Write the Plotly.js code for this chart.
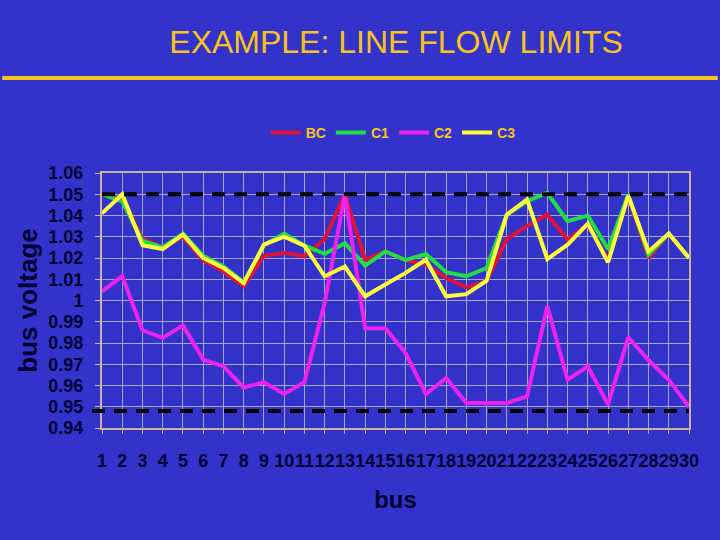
<!DOCTYPE html>
<html>
<head>
<meta charset="utf-8">
<script src="https://cdn.plot.ly/plotly-3.0.1.min.js"></script>
<style>html,body{margin:0;padding:0;background:#3333CC;}#chart{width:720px;height:540px;}</style>
</head>
<body>
<div id="chart"></div>
<script>
const buses = [1,2,3,4,5,6,7,8,9,10,11,12,13,14,15,16,17,18,19,20,21,22,23,24,25,26,27,28,29,30];
const BC = [1.050,1.048,1.029,1.025,1.030,1.019,1.0137,1.0067,1.021,1.0224,1.0208,1.029,1.050,1.0192,1.0231,1.019,1.0169,1.0106,1.0062,1.009,1.029,1.035,1.0404,1.0286,1.0357,1.0192,1.049,1.020,1.0315,1.020];
const C1 = [1.050,1.0467,1.028,1.025,1.0315,1.021,1.016,1.0085,1.026,1.0315,1.0258,1.022,1.027,1.0164,1.0231,1.019,1.0219,1.0133,1.0114,1.0153,1.0404,1.0467,1.0506,1.0373,1.040,1.0242,1.0498,1.0216,1.0315,1.020];
const C2 = [1.0043,1.0114,0.986,0.9824,0.9883,0.9722,0.969,0.9591,0.9615,0.956,0.9615,0.9988,1.0498,0.987,0.987,0.9753,0.956,0.9635,0.9518,0.9518,0.9518,0.9549,0.9973,0.9627,0.969,0.951,0.9827,0.972,0.9627,0.950];
const C3 = [1.041,1.050,1.026,1.0242,1.031,1.020,1.0153,1.0082,1.0263,1.030,1.0258,1.0114,1.016,1.002,1.0075,1.013,1.0192,1.002,1.003,1.0093,1.0404,1.0475,1.0195,1.0263,1.0362,1.018,1.0493,1.0231,1.0315,1.020];
const seriesNames = ['BC','C1','C2','C3'];
const yTickVals = [0.94,0.95,0.96,0.97,0.98,0.99,1.00,1.01,1.02,1.03,1.04,1.05,1.06];
const yTickText = ['0.94','0.95','0.96','0.97','0.98','0.99','1','1.01','1.02','1.03','1.04','1.05','1.06'];
const limits = [1.05, 0.948];

const colors = ['#DD1438','#22DD44','#EE22EE','#FFFF3C'];
const allSeries = [BC, C1, C2, C3];
const traces = allSeries.map((vals, i) => ({
  x: buses, y: vals, type: 'scatter', mode: 'lines', name: seriesNames[i],
  line: {color: colors[i], width: 4}
}));

const gold = '#F7C41C';
const frame = '#C8B49E';
const grid = '#A8A4DC';
const tickColor = '#000033';

const layout = {
  width: 720, height: 540,
  paper_bgcolor: '#3333CC', plot_bgcolor: '#3333CC',
  margin: {l: 102, r: 31, t: 173, b: 112},
  showlegend: true,
  title: {text: 'EXAMPLE: LINE FLOW LIMITS', font: {family: 'Liberation Sans, Arial', size: 32, color: gold},
          x: 0.55, xanchor: 'center', y: 0.922, yanchor: 'middle', xref: 'container', yref: 'container'},
  legend: {orientation: 'h', x: 0.496, xanchor: 'center', y: 1.157, yanchor: 'middle',
           font: {family: 'Liberation Sans, Arial', size: 14, color: gold, weight: 'bold'},
           bgcolor: 'rgba(0,0,0,0)', itemgap: 6, tracegroupgap: 0},
  xaxis: {
    range: [1, 30], tickvals: buses, ticktext: buses.map(String), tickangle: 0,
    showgrid: true, gridcolor: grid, gridwidth: 1, zeroline: false,
    showline: true, linecolor: frame, linewidth: 2, mirror: true,
    ticks: 'outside', ticklen: 4, tickcolor: frame, ticklabelstandoff: 11,
    tickfont: {family: 'Liberation Sans, Arial', size: 18, color: tickColor, weight: 'bold'},
    title: {text: 'bus', standoff: 22, font: {family: 'Liberation Sans, Arial', size: 24, color: tickColor, weight: 'bold'}},
    automargin: false, fixedrange: true
  },
  yaxis: {
    range: [0.94, 1.06], tickvals: yTickVals, ticktext: yTickText,
    showgrid: true, gridcolor: grid, gridwidth: 1, zeroline: false,
    showline: true, linecolor: frame, linewidth: 2, mirror: true,
    ticks: 'outside', ticklen: 5, tickcolor: frame, ticklabelstandoff: 8,
    tickfont: {family: 'Liberation Sans, Arial', size: 18, color: tickColor, weight: 'bold'},
    title: {text: 'bus voltage', standoff: 3, font: {family: 'Liberation Sans, Arial', size: 26, color: tickColor, weight: 'bold'}},
    automargin: false, fixedrange: true
  },
  shapes: [
    {type: 'line', xref: 'paper', yref: 'paper', x0: -0.170, x1: 1.049, y0: 1.3725, y1: 1.3725,
     line: {color: gold, width: 4}, layer: 'above'},
    {type: 'line', xref: 'paper', yref: 'y', x0: 0, x1: 1, y0: limits[0], y1: limits[0],
     line: {color: '#000000', width: 4, dash: '13px,9px'}, layer: 'above'},
    {type: 'line', xref: 'paper', yref: 'y', x0: -0.017, x1: 1, y0: limits[1], y1: limits[1],
     line: {color: '#000000', width: 4, dash: '13px,9px'}, layer: 'above'}
  ]
};

Plotly.newPlot('chart', traces, layout, {staticPlot: true, displayModeBar: false});
</script>
</body>
</html>
